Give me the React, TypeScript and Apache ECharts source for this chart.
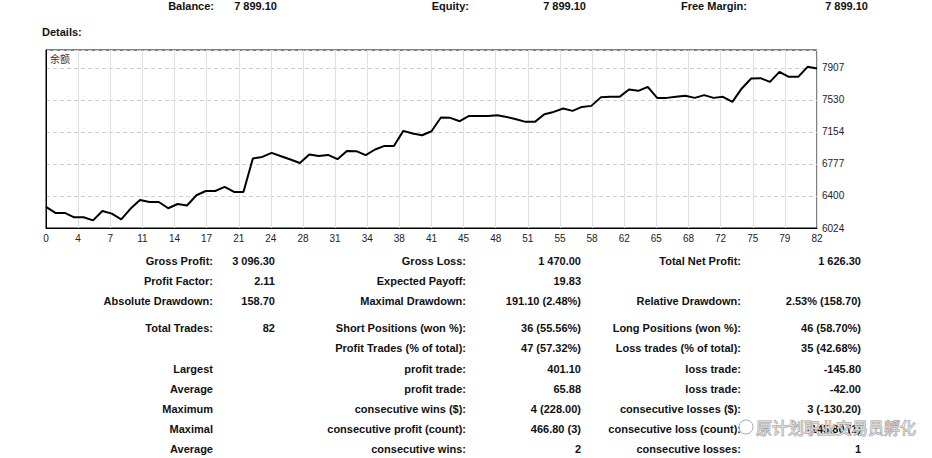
import React, { useEffect, useRef } from "react";
import * as echarts from "echarts";

// ---- data ----
const balance = [
  6272.8, 6201, 6201, 6150, 6150, 6114.1, 6224, 6193, 6126, 6252,
  6354, 6330, 6330, 6256, 6306, 6288, 6409, 6459, 6459, 6507,
  6448, 6448, 6841, 6860, 6907, 6868, 6829, 6789, 6888, 6871,
  6883, 6833, 6930, 6927, 6880, 6947, 6989, 6989, 7166, 7135,
  7115, 7162, 7323, 7319, 7280, 7342, 7342, 7342, 7350, 7330,
  7303, 7272, 7272, 7362, 7389, 7429, 7401, 7448, 7460, 7560,
  7566, 7566, 7653, 7637, 7684, 7554, 7554, 7566, 7578, 7554,
  7586, 7554, 7566, 7507, 7665, 7782, 7786, 7742, 7860, 7801,
  7801, 7919, 7899.1,
];
const xTickLabels = [
  "0", "4", "7", "11", "14", "17", "21", "24", "28", "31", "34", "38", "41",
  "45", "48", "51", "55", "58", "62", "65", "68", "72", "75", "79", "82",
];
const yTickLabels = ["6024", "6400", "6777", "7154", "7530", "7907"];
const chartTitle = "余额";

const headerLabels = ["Balance:", "Equity:", "Free Margin:"];
const headerValues = ["7 899.10", "7 899.10", "7 899.10"];
const detailsTitle = "Details:";

// each row: [label1, value1, label2, value2, label3, value3]
const summaryRows = [
  ["Gross Profit:", "3 096.30", "Gross Loss:", "1 470.00", "Total Net Profit:", "1 626.30"],
  ["Profit Factor:", "2.11", "Expected Payoff:", "19.83", "", ""],
  ["Absolute Drawdown:", "158.70", "Maximal Drawdown:", "191.10 (2.48%)", "Relative Drawdown:", "2.53% (158.70)"],
  ["Total Trades:", "82", "Short Positions (won %):", "36 (55.56%)", "Long Positions (won %):", "46 (58.70%)"],
  ["", "", "Profit Trades (% of total):", "47 (57.32%)", "Loss trades (% of total):", "35 (42.68%)"],
  ["Largest", "", "profit trade:", "401.10", "loss trade:", "-145.80"],
  ["Average", "", "profit trade:", "65.88", "loss trade:", "-42.00"],
  ["Maximum", "", "consecutive wins ($):", "4 (228.00)", "consecutive losses ($):", "3 (-130.20)"],
  ["Maximal", "", "consecutive profit (count):", "466.80 (3)", "consecutive loss (count):", "-145.80 (1)"],
  ["Average", "", "consecutive wins:", "2", "consecutive losses:", "1"],
];
const watermark = "原计划职业交易员孵化";

// ---- layout ----
const W = 932;
const H = 458;
const rowYs = [261, 281, 301, 328, 348, 369, 389, 409, 429, 449];
const colXs = [213, 275, 466, 581, 741, 861];
const headerLabelX = [214, 469, 747];
const headerValueX = [277, 586, 868];
const BOLD = 'bold 11px "Liberation Sans", Arial, sans-serif';

export default function App() {
  const ref = useRef<HTMLDivElement>(null);

  useEffect(() => {
    if (!ref.current) return;
    const chart = echarts.init(ref.current, null, { renderer: "svg" });

    const txt = (text: string, x: number, y: number, align: string, font = BOLD, fill = "#111") => ({
      type: "text",
      x,
      y,
      silent: true,
      style: {
        text,
        fill,
        font,
        align,
        verticalAlign: "middle",
        textAlign: align,
        textVerticalAlign: "middle",
      },
    });

    const graphics: any[] = [];
    headerLabels.forEach((l, i) => {
      graphics.push(txt(l, headerLabelX[i], 6, "right"));
      graphics.push(txt(headerValues[i], headerValueX[i], 6, "right"));
    });
    graphics.push(txt(detailsTitle, 42, 32, "left"));
    graphics.push(txt(chartTitle, 50, 58, "left", '10px "Noto Sans CJK SC", sans-serif', "#333"));
    summaryRows.forEach((row, r) => {
      row.forEach((cell, c) => {
        if (cell) graphics.push(txt(cell, colXs[c], rowYs[r], "right"));
      });
    });
    // watermark
    graphics.push({
      type: "circle",
      silent: true,
      shape: { cx: 746, cy: 427, r: 7 },
      style: { fill: "rgba(255,255,255,0.4)", stroke: "#aaa", lineWidth: 1 },
    });
    graphics.push({
      type: "text",
      x: 756,
      y: 427,
      silent: true,
      style: {
        text: watermark,
        font: '16px "Noto Sans CJK SC", sans-serif',
        fill: "rgba(255,255,255,0.6)",
        stroke: "#9a9a9a",
        lineWidth: 1,
        align: "left",
        verticalAlign: "middle",
        textAlign: "left",
        textVerticalAlign: "middle",
      },
    });

    const axisFont = { fontFamily: '"Liberation Sans", Arial, sans-serif', fontSize: 10, color: "#222" };

    chart.setOption({
      animation: false,
      backgroundColor: "#fff",
      grid: {
        left: 46,
        right: W - 817,
        top: 50,
        bottom: H - 228,
        show: true,
        borderColor: "#000",
        borderWidth: 1,
        backgroundColor: "#fff",
      },
      xAxis: {
        type: "value",
        min: 0,
        max: 82,
        interval: 82 / 24,
        axisLine: { show: true, lineStyle: { color: "#000", width: 1 } },
        axisTick: { show: false },
        axisLabel: {
          ...axisFont,
          margin: 5,
          showMinLabel: true,
          showMaxLabel: true,
          hideOverlap: false,
          formatter: (_v: number, idx: number) => xTickLabels[idx] ?? "",
        },
        splitLine: { show: true, lineStyle: { color: "#e0e0e0", width: 1 } },
      },
      yAxis: {
        type: "value",
        position: "right",
        min: 6024,
        max: 8117,
        interval: 376.5,
        axisLine: { show: true, lineStyle: { color: "#000", width: 1 } },
        axisTick: { show: false },
        axisLabel: {
          ...axisFont,
          margin: 5,
          showMaxLabel: false,
          formatter: (_v: number, idx: number) => yTickLabels[idx] ?? "",
        },
        splitLine: { show: true, lineStyle: { color: "#d0d0d0", width: 1, type: [4, 3] } },
      },
      series: [
        {
          type: "line",
          data: balance.map((v, i) => [i, v]),
          symbol: "none",
          lineStyle: { color: "#000", width: 2 },
          z: 5,
        },
      ],
      graphic: graphics,
    });

    return () => chart.dispose();
  }, []);

  return (
    <div
      ref={ref}
      style={{ position: "absolute", left: 0, top: 0, width: W, height: H }}
    />
  );
}
